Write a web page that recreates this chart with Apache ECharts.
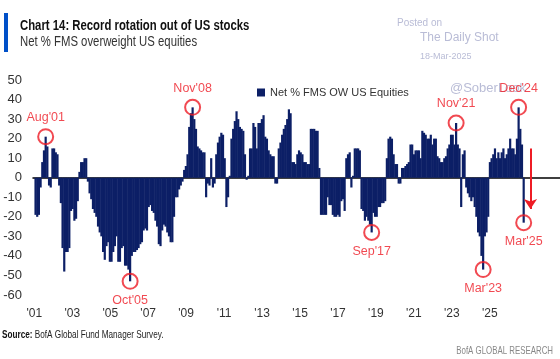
<!DOCTYPE html>
<html><head><meta charset="utf-8">
<script src="https://cdn.jsdelivr.net/npm/echarts@6/dist/echarts.min.js"></script>
<style>html,body{margin:0;padding:0;background:#fff}#c{width:560px;height:359px}</style>
</head><body><div id="c"></div>
<script>
// Monthly net % of FMS investors overweight US equities (Jan..Dec per year)
const y2001 = [null, -19, -20, -19, -5, 8, 14, 21, 16, -4, -5, 15];
const y2002 = [15, 13, 12, -4, -13, -36, -48, -38, -38, -36, -17, -16];
const y2003 = [-22, -21, -12, 3, 8, 8, 10, 10, -2, -8, -11, -16];
const y2004 = [-18, -20, -25, -28, -30, -38, -42, -35, -33, -43, -43, -38];
const y2005 = [-35, -30, -43, -43, -36, -35, -45, -45, -47, -53, -40, -38];
const y2006 = [-38, -37, -36, -34, -33, -27, -26, -27, -15, -14, -17, -18];
const y2007 = [-22, -25, -34, -35, -27, -24, -25, -28, -30, -33, -33, -20];
const y2008 = [-10, -10, -6, -4, -2, 4, 6, 12, 26, 33, 36, 30];
const y2009 = [25, 16, 15, 14, 13, 13, -10, -3, -4, 10, -5, -3];
const y2010 = [12, 18, 21, 23, 22, 10, -15, -10, 1, 20, 25, 29];
const y2011 = [34, 30, 26, 25, 24, 12, -1, 1, 15, 15, 28, 26];
const y2012 = [15, 28, 28, 30, 32, 21, 20, 14, 12, 11, 11, -3];
const y2013 = [-3, 15, 18, 22, 25, 27, 30, 35, 33, 8, 8, 7];
const y2014 = [12, 14, 13, 12, 8, 8, 7, 7, 25, 25, 25, 24];
const y2015 = [24, 5, -19, -19, -19, -19, -10, -14, -14, -19, -20, -20];
const y2016 = [-19, -20, -12, -11, -17, 10, 12, 13, -5, 1, 15, 15];
const y2017 = [15, 14, -16, -17, -22, -20, -22, -24, -28, -18, -20, -20];
const y2018 = [-15, -15, -13, -13, -12, 10, 20, 21, 20, 12, 7, 7];
const y2019 = [-3, -3, 5, 5, 6, 7, 8, 17, 17, 12, 14, 14];
const y2020 = [14, 10, 24, 23, 22, 20, 20, 22, 17, 20, 20, 11];
const y2021 = [10, 8, 8, 10, 11, 15, 17, 22, 22, 17, 28, 17];
const y2022 = [15, -15, 12, 14, -5, -8, -10, -12, -10, -15, -20, -28];
const y2023 = [-30, -40, -47, -30, -28, -20, 8, 10, 12, 15, 10, 13];
const y2024 = [10, 13, 15, 10, 12, 15, 20, 15, 15, 12, 20, 36];
const y2025 = [25, 17, -23];
const yearlyValues = [y2001, y2002, y2003, y2004, y2005, y2006, y2007, y2008, y2009, y2010, y2011, y2012, y2013,
  y2014, y2015, y2016, y2017, y2018, y2019, y2020, y2021, y2022, y2023, y2024, y2025];

const firstYear = 2001, lastAxisYear = 2026;
const tickYears = [2001, 2003, 2005, 2007, 2009, 2011, 2013, 2015, 2017, 2019, 2021, 2023, 2025];
const tickLabels = ["'01", "'03", "'05", "'07", "'09", "'11", "'13", "'15", "'17", "'19", "'21", "'23", "'25"];
const yTicks = [-60, -50, -40, -30, -20, -10, 0, 10, 20, 30, 40, 50];
const seriesName = 'Net % FMS OW US Equities';

// highlighted months
const callouts = [
  { label: "Aug'01", month: '2001-08', side: 'top' },
  { label: "Oct'05", month: '2005-10', side: 'bottom' },
  { label: "Nov'08", month: '2008-11', side: 'top' },
  { label: "Sep'17", month: '2017-09', side: 'bottom' },
  { label: "Nov'21", month: '2021-11', side: 'top' },
  { label: "Mar'23", month: '2023-03', side: 'bottom' },
  { label: "Dec'24", month: '2024-12', side: 'top' },
  { label: "Mar'25", month: '2025-03', side: 'bottom' }
];
const arrowMonth = '2025-07', arrowFrom = 15, arrowTo = -16;

// ---- build ----
const months = [];
for (let y = firstYear; y <= lastAxisYear; y++) for (let m = 1; m <= 12; m++) months.push(y + '-' + String(m).padStart(2, '0'));
const values = months.map(() => null);
yearlyValues.forEach((arr, yi) => arr.forEach((v, mi) => { values[yi * 12 + mi] = v; }));

const RED = '#ee1c25';
const NAVY = '#0c1f66';
const SANS = "'Liberation Sans', Arial, sans-serif";
const calloutData = callouts.map(c => {
  const idx = months.indexOf(c.month);
  return { value: [idx, values[idx]], label: { show: true, formatter: c.label, position: c.side, distance: 4 } };
});

const chart = echarts.init(document.getElementById('c'), null, { renderer: 'canvas' });
chart.setOption({
  animation: false,
  backgroundColor: '#fff',
  textStyle: { fontFamily: SANS },
  grid: { left: 33, right: 0, top: 80, bottom: 64 },
  legend: {
    data: [seriesName], left: 252, top: 82, icon: 'rect', itemWidth: 8, itemHeight: 8, itemGap: 5,
    textStyle: { fontSize: 11, color: '#333', fontFamily: SANS }
  },
  xAxis: [
    { type: 'category', data: months, boundaryGap: true,
      axisLine: { onZero: true, lineStyle: { color: '#000', width: 1.5 } },
      axisTick: { show: false }, axisLabel: { show: false }, splitLine: { show: false } },
    { type: 'value', position: 'bottom',
      min: tickYears[0] - 0.07, max: tickYears[0] - 0.07 + 27.77,
      axisLine: { show: false }, axisTick: { show: false }, splitLine: { show: false },
      axisLabel: { customValues: tickYears, margin: 13, fontSize: 12, color: '#333', fontFamily: SANS,
        formatter: v => tickLabels[tickYears.indexOf(Math.round(v))] || '' } }
  ],
  yAxis: {
    type: 'value', min: yTicks[0], max: yTicks[yTicks.length - 1], interval: 10,
    axisLine: { show: false }, axisTick: { show: false }, splitLine: { show: false },
    axisLabel: { fontSize: 13, color: '#333', margin: 11, fontFamily: SANS }
  },
  series: [
    { name: seriesName, type: 'bar', data: values, barWidth: '130%', xAxisIndex: 0,
      itemStyle: { color: NAVY }, z: 2,
      markLine: {
        silent: true, symbol: ['none', 'arrow'], symbolSize: 10,
        lineStyle: { color: RED, width: 2, type: 'solid' }, label: { show: false },
        data: [[{ coord: [arrowMonth, arrowFrom] }, { coord: [arrowMonth, arrowTo] }]]
      } },
    { name: 'callouts', type: 'scatter', xAxisIndex: 0, data: calloutData, symbol: 'circle', symbolSize: 15,
      itemStyle: { color: 'rgba(0,0,0,0)', borderColor: RED, borderWidth: 2 }, z: 5,
      label: { color: RED, fontSize: 12.5, fontFamily: SANS } }
  ],
  graphic: [
    { type: 'rect', shape: { x: 4, y: 13, width: 4, height: 39 }, style: { fill: '#0050c8' } },
    { type: 'text', x: 20, y: 19, scaleX: 0.81, originX: 0, originY: 0,
      style: { text: 'Chart 14: Record rotation out of US stocks', font: "bold 14px " + SANS, fill: '#111', align: 'left', verticalAlign: 'top' } },
    { type: 'text', x: 20, y: 35, scaleX: 0.81, originX: 0, originY: 0,
      style: { text: 'Net % FMS overweight US equities', font: "14px " + SANS, fill: '#333', align: 'left', verticalAlign: 'top' } },
    { type: 'text', x: 397, y: 18, style: { text: 'Posted on', font: "10px " + SANS, fill: '#b9bcd6', verticalAlign: 'top' } },
    { type: 'text', x: 420, y: 32, style: { text: 'The Daily Shot', font: "12px " + SANS, fill: '#b9bcd6', verticalAlign: 'top' } },
    { type: 'text', x: 420, y: 52, style: { text: '18-Mar-2025', font: "9px " + SANS, fill: '#b9bcd6', verticalAlign: 'top' } },
    { type: 'text', x: 450, y: 82, z: 0, style: { text: '@SoberLook', font: "13px " + SANS, fill: '#b9bcd6', verticalAlign: 'top' } },
    { type: 'text', x: 2, y: 330, scaleX: 0.78, originX: 0, originY: 0,
      style: { text: '{b|Source:} BofA Global Fund Manager Survey.', font: "10.5px " + SANS, fill: '#222', verticalAlign: 'top',
        rich: { b: { fontWeight: 'bold', fontSize: 10.5, fontFamily: SANS, fill: '#111' } } } },
    { type: 'text', x: 553, y: 346, scaleX: 0.75, originX: 0, originY: 0,
      style: { text: 'BofA GLOBAL RESEARCH', font: "10.5px " + SANS, fill: '#888', align: 'right', verticalAlign: 'top' } }
  ]
});
</script></body></html>
